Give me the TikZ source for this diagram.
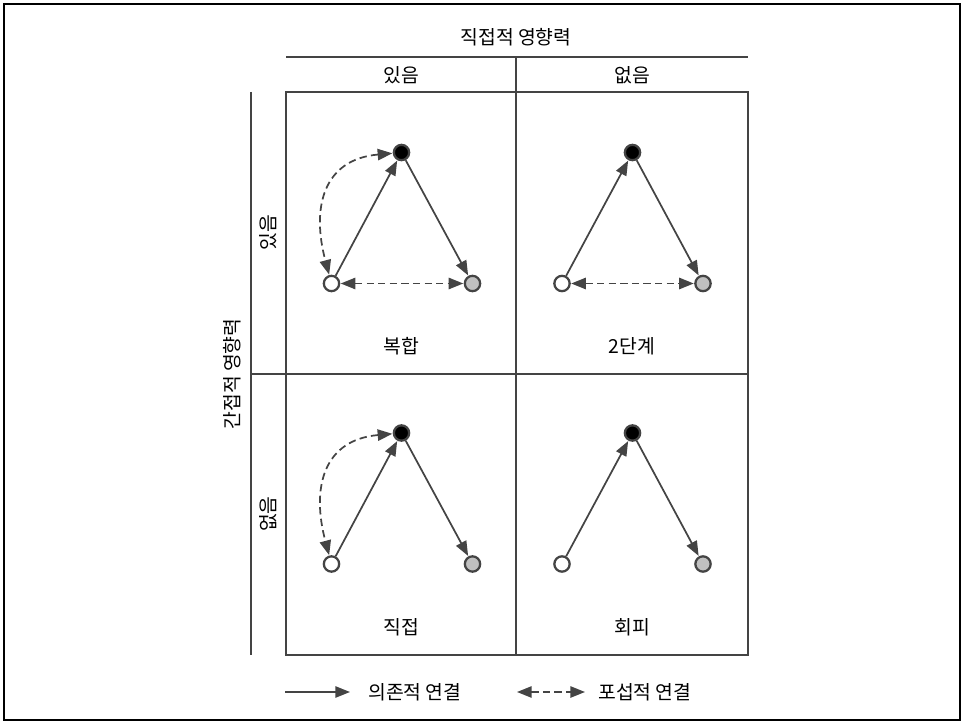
\documentclass[tikz,border=0pt]{standalone}
\usepackage{fontspec}
\setmainfont{Noto Sans CJK KR}
\usetikzlibrary{arrows.meta}
\definecolor{ln}{HTML}{444444}
\definecolor{gr}{HTML}{C0C0C0}
\tikzset{
  grid/.style={draw=ln, line width=1.2pt},
  lbl/.style={font=\fontsize{14.5pt}{17pt}\selectfont, text=black, inner sep=0pt},
  nd/.style={circle, draw=ln, line width=1.7pt, minimum size=11.5pt, inner sep=0pt},
  topn/.style={nd, fill=black},
  leftn/.style={nd, fill=white},
  rightn/.style={nd, fill=gr},
  tipA/.tip={Triangle[length=11pt,width=8.5pt]},
  dep/.style={draw=ln, line width=1.3pt, -tipA, shorten >=0.3pt},
  inc/.style={draw=ln, line width=1.3pt, dash pattern=on 5.5pt off 3.2pt, tipA-tipA, shorten >=0.3pt, shorten <=0.3pt},
}
\begin{document}
\begin{tikzpicture}[x=0.75pt, y=-0.75pt]
\useasboundingbox (0,0) rectangle (963,723);
\draw[black, line width=1.6pt] (4,4) rectangle (960,720);
% grid
\draw[grid] (286,57) -- (748,57);
\draw[grid] (286,92) rectangle (748,655);
\draw[grid] (516,57) -- (516,655);
\draw[grid] (251,374) -- (748,374);
\draw[grid] (251,92) -- (251,655);
% header texts
\node[lbl] (title) at (516,37) {직접적 영향력};
\node[lbl] (c1) at (401,75) {있음};
\node[lbl] (c2) at (632,75) {없음};
\node[lbl, rotate=90] (side) at (232,374) {간접적 영향력};
\node[lbl, rotate=90] (r1) at (268,233) {있음};
\node[lbl, rotate=90] (r2) at (268,514) {없음};
% quadrant 1
\node[topn] (t1) at (401.5,152.5) {};
\node[leftn] (l1) at (331.5,283.5) {};
\node[rightn] (r1n) at (472.5,283.5) {};
\draw[dep] (l1) -- (t1);
\draw[dep] (t1) -- (r1n);
\draw[inc] (l1) -- (r1n);
\draw[inc] (t1) to[out=185,in=105,looseness=1.3] (l1);
\node[lbl] (q1) at (401,346) {복합};
% quadrant 2
\node[topn] (t2) at (632.5,152.5) {};
\node[leftn] (l2) at (562,283.5) {};
\node[rightn] (r2n) at (703,283.5) {};
\draw[dep] (l2) -- (t2);
\draw[dep] (t2) -- (r2n);
\draw[inc] (l2) -- (r2n);
\node[lbl] (q2) at (632,346) {2단계};
% quadrant 3
\node[topn] (t3) at (401.5,433) {};
\node[leftn] (l3) at (331.5,564) {};
\node[rightn] (r3n) at (472.5,564) {};
\draw[dep] (l3) -- (t3);
\draw[dep] (t3) -- (r3n);
\draw[inc] (t3) to[out=185,in=105,looseness=1.3] (l3);
\node[lbl] (q3) at (401,627) {직접};
% quadrant 4
\node[topn] (t4) at (632.5,433) {};
\node[leftn] (l4) at (562,564) {};
\node[rightn] (r4n) at (703,564) {};
\draw[dep] (l4) -- (t4);
\draw[dep] (t4) -- (r4n);
\node[lbl] (q4) at (632,627) {회피};
% legend
\coordinate (a1) at (285,692);
\coordinate (a2) at (350,692);
\draw[dep, shorten >=0pt] (a1) -- (a2);
\node[lbl, anchor=west] (lg1) at (368,692) {의존적 연결};
\coordinate (b1) at (517,692);
\coordinate (b2) at (585,692);
\draw[inc, shorten >=0pt, shorten <=0pt] (b1) -- (b2);
\node[lbl, anchor=west] (lg2) at (598,692) {포섭적 연결};
\end{tikzpicture}
\end{document}
